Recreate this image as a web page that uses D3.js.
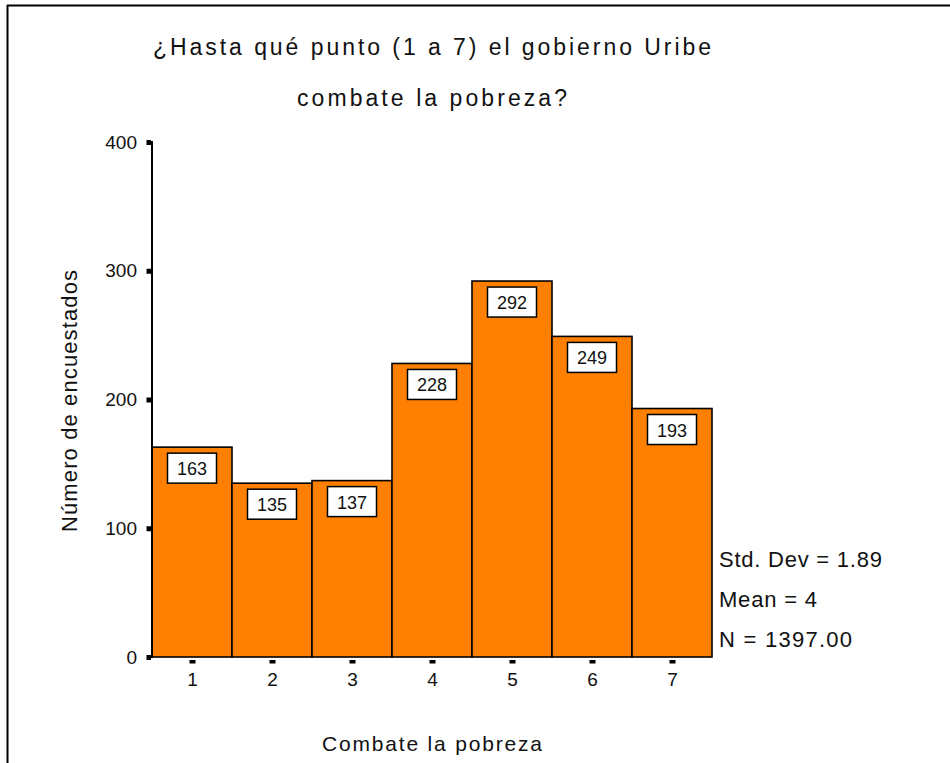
<!DOCTYPE html>
<html>
<head>
<meta charset="utf-8">
<script src="https://cdn.jsdelivr.net/npm/d3@7"></script>
<style>
html,body{margin:0;padding:0;background:#fff;}
svg{display:block;font-family:"Liberation Sans",Arial,sans-serif;}
</style>
</head>
<body>
<svg id="chart" width="950" height="763"></svg>
<script>
const categories = [1, 2, 3, 4, 5, 6, 7];
const counts = [163, 135, 137, 228, 292, 249, 193];
const yTicks = [0, 100, 200, 300, 400];
const titleLines = ["¿Hasta qué punto (1 a 7) el gobierno Uribe", "combate la pobreza?"];
const xLabel = "Combate la pobreza";
const yLabel = "Número de encuestados";
const stats = ["Std. Dev = 1.89", "Mean = 4", "N = 1397.00"];

const svg = d3.select("#chart");
const x = d3.scaleLinear().domain([0.5, 7.5]).range([152, 712]);
const y = d3.scaleLinear().domain([0, 400]).range([657, 142]);

// frame
svg.append("line").attr("x1", 7).attr("x2", 950).attr("y1", 5.5).attr("y2", 5.5)
  .attr("stroke", "#000").attr("stroke-width", 2);
svg.append("line").attr("x1", 7.5).attr("x2", 7.5).attr("y1", 5).attr("y2", 763)
  .attr("stroke", "#000").attr("stroke-width", 2);

// title
const tLen = [558, 270];
titleLines.forEach((t, i) => {
  svg.append("text").attr("x", 432).attr("y", [55, 106][i])
    .attr("text-anchor", "middle").attr("font-size", 23)
    .attr("textLength", tLen[i]).attr("lengthAdjust", "spacing")
    .attr("fill", "#111").text(t);
});

// bars
const g = svg.append("g");
g.selectAll("rect.bar").data(categories).join("rect").attr("class", "bar")
  .attr("x", d => x(d - 0.5)).attr("width", d => x(d + 0.5) - x(d - 0.5))
  .attr("y", (d, i) => y(counts[i])).attr("height", (d, i) => y(0) - y(counts[i]))
  .attr("fill", "#FF8000").attr("stroke", "#000").attr("stroke-width", 1.6);

// value boxes
const lb = g.selectAll("g.lab").data(categories).join("g").attr("class", "lab")
  .attr("transform", (d, i) => `translate(${x(d)},${y(counts[i]) + 6})`);
lb.append("rect").attr("x", -24.5).attr("y", 0).attr("width", 49).attr("height", 30)
  .attr("fill", "#fff").attr("stroke", "#000").attr("stroke-width", 1.5);
lb.append("text").attr("x", 0).attr("y", 22).attr("text-anchor", "middle")
  .attr("font-size", 18).attr("fill", "#111").text((d, i) => counts[i]);

// y axis
const yAxis = d3.axisLeft(y).tickValues(yTicks).tickSize(0).tickPadding(0);
const ya = svg.append("g").attr("transform", "translate(151,0)").call(yAxis);
ya.select(".domain").remove();
ya.selectAll(".tick text").attr("x", -14).attr("dy", "0.32em")
  .attr("font-size", 19).attr("fill", "#111").attr("font-family", "Liberation Sans, Arial, sans-serif");
ya.selectAll(".tick").append("rect").attr("x", -4.5).attr("y", -2.5).attr("width", 4.5).attr("height", 5).attr("fill", "#000");
svg.append("line").attr("x1", 152).attr("x2", 152).attr("y1", y(400) - 1).attr("y2", y(0) + 1)
  .attr("stroke", "#000").attr("stroke-width", 2);

// x axis ticks
const xAxis = d3.axisBottom(x).tickValues(categories).tickSize(0).tickPadding(0).tickFormat(d3.format("d"));
const xa = svg.append("g").attr("transform", `translate(0,${y(0)})`).call(xAxis);
xa.select(".domain").remove();
xa.selectAll(".tick text").attr("y", 29).attr("dy", 0)
  .attr("font-size", 19).attr("fill", "#111").attr("font-family", "Liberation Sans, Arial, sans-serif");
xa.selectAll(".tick").append("rect").attr("x", -3).attr("y", 3).attr("width", 6).attr("height", 3.5).attr("fill", "#000");

// axis titles
svg.append("text").attr("x", 432).attr("y", 751).attr("text-anchor", "middle")
  .attr("font-size", 21).attr("textLength", 220).attr("lengthAdjust", "spacing")
  .attr("fill", "#111").text(xLabel);
svg.append("text").attr("transform", "translate(77,401) rotate(-90)").attr("text-anchor", "middle")
  .attr("font-size", 22).attr("textLength", 262).attr("lengthAdjust", "spacing")
  .attr("fill", "#111").text(yLabel);

// stats
const sLen = [163, 98, 133];
stats.forEach((s, i) => {
  svg.append("text").attr("x", 719).attr("y", 567 + i * 40).attr("font-size", 22)
    .attr("textLength", sLen[i]).attr("lengthAdjust", "spacing")
    .attr("fill", "#111").text(s);
});
</script>
</body>
</html>
